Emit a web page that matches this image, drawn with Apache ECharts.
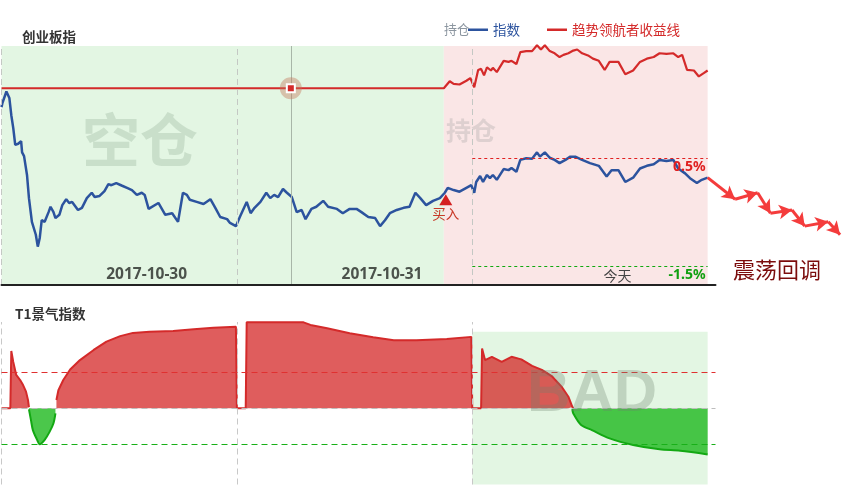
<!DOCTYPE html>
<html><head><meta charset="utf-8">
<script src="https://cdn.jsdelivr.net/npm/echarts@6/dist/echarts.min.js"></script>
<style>html,body{margin:0;padding:0;background:#fff}#c{width:863px;height:489px}</style>
</head><body><div id="c"></div>
<script>
// ---------- data (x = trading minute since 2017-10-30 open, 240 per day) ----------
const dayLabels = ['2017-10-30', '2017-10-31', '今天'];
const dayLabelPos = [148, 388, 628];
const dayBounds = [0, 240, 480];
const seriesNames = ['指数', '趋势领航者收益线'];

// 指数 (%)
const idxT = [0,1,5,8,10,12,14,17,20,21,23,26,28,31,33,35,37,39,41,44,48,50,53,55,59,62,66,69,72,74,78,82,87,92,95,100,105,109,112,117,123,128,133,138,143,146,150,160,167,174,180,185,189,192,199,206,213,218,223,230,233,239,243,250,254,258,264,270,274,278,282,287,291,296,301,306,310,316,321,328,333,342,348,355,362,367,374,381,386,391,396,403,410,416,422,427,433,440,447,452,455,461,467,474,479,482,484,488,491,495,498,501,505,512,517,520,525,529,535,541,546,549,554,559,564,569,575,580,585,592,600,609,617,622,629,636,644,651,658,665,671,678,685,690,697,702,709,714,720];
const idxV = [1.45,1.53,1.74,1.62,1.30,1.06,0.75,0.77,0.82,0.61,0.54,0.19,-0.24,-0.68,-0.68,-0.92,-1.14,-0.98,-0.65,-0.68,-0.50,-0.40,-0.50,-0.61,-0.55,-0.37,-0.26,-0.33,-0.31,-0.31,-0.46,-0.42,-0.24,-0.14,-0.22,-0.20,-0.11,0.02,0.00,0.04,-0.01,-0.05,-0.09,-0.18,-0.14,-0.18,-0.44,-0.33,-0.55,-0.52,-0.68,-0.14,-0.18,-0.27,-0.31,-0.35,-0.26,-0.42,-0.59,-0.63,-0.70,-0.76,-0.59,-0.31,-0.52,-0.42,-0.31,-0.14,-0.24,-0.18,-0.22,-0.07,-0.14,-0.22,-0.50,-0.46,-0.63,-0.44,-0.40,-0.29,-0.40,-0.44,-0.52,-0.44,-0.44,-0.50,-0.59,-0.61,-0.76,-0.65,-0.52,-0.46,-0.42,-0.40,-0.14,-0.24,-0.37,-0.29,-0.24,-0.14,-0.05,-0.09,-0.12,-0.05,0.00,-0.14,0.06,0.17,0.06,0.19,0.13,0.19,0.10,0.30,0.28,0.32,0.25,0.47,0.50,0.49,0.61,0.53,0.61,0.51,0.47,0.41,0.47,0.53,0.53,0.47,0.41,0.36,0.16,0.28,0.28,0.06,0.14,0.31,0.36,0.39,0.47,0.45,0.47,0.31,0.22,0.13,0.04,0.10,0.14];

// 趋势领航者收益线 (%)
const retT = [0,451,457,461,467,474,478,482,486,489,492,495,499,501,505,512,517,520,525,529,535,541,546,550,554,559,564,569,573,578,583,587,592,598,603,609,615,620,629,636,644,651,658,665,671,678,685,690,694,699,706,711,716,720];
const retV = [1.80,1.80,1.93,1.88,1.87,1.94,1.99,1.82,2.14,2.16,2.04,2.19,2.13,2.18,2.10,2.31,2.29,2.31,2.25,2.47,2.49,2.49,2.60,2.52,2.60,2.49,2.45,2.38,2.42,2.45,2.50,2.52,2.45,2.41,2.35,2.31,2.14,2.29,2.29,2.06,2.13,2.29,2.35,2.38,2.45,2.44,2.45,2.38,2.42,2.14,2.13,2.02,2.08,2.13];

// projected path (震荡回调)
const projT = [720,748,771,784,806,819,843,855];
const projV = [0.14,-0.26,-0.14,-0.52,-0.46,-0.76,-0.68,-0.92];

// band lines for today (%)
const bandValues = [0.5, -1.5];
const buyT = 453, buyV = -0.14;
const pointerT = 295;
const emptyEnd = 451, holdEnd = 720;

// T1景气指数 (null = gap)
const t1RedT = [0,9,10,12,15,19,22,25,27,28,40,56,58,63,70,80,94,107,121,134,151,175,196,216,239,240,249,250,308,315,332,355,379,400,423,454,479,480,489,490,493,500,510,520,530,541,551,561,571,578,582,583];
const t1RedV = [0,0,1.58,1.28,0.92,0.78,0.64,0.46,0.23,0.03,null,0.23,0.50,0.78,1.07,1.33,1.61,1.84,1.99,2.08,2.11,2.13,2.18,2.22,2.25,0,0,2.37,2.37,2.30,2.21,2.07,1.96,1.88,1.88,1.91,1.97,0,0,1.65,1.33,1.42,1.28,1.42,1.35,1.17,1.06,0.89,0.60,0.32,0.04,0];
const t1GreenT = [28,30,32,36,39,44,49,53,55,300,582,583,591,602,620,644,671,692,720];
const t1GreenV = [-0.03,-0.32,-0.60,-0.85,-0.99,-0.87,-0.65,-0.41,-0.14,null,-0.02,-0.14,-0.46,-0.60,-0.83,-1.01,-1.13,-1.17,-1.27];
const t1Levels = [1, 0, -1];
const badFrom = 480, badTop = 2.11;

// ---------- chart ----------
const BLUE = '#2c539e', RED = '#d42a2a', GREEN = '#13a813';
const X_MAX = 728;
const PX_PER_MIN = 714 / X_MAX;
const X_MAX_WIDE = (863 - 1.5) / PX_PER_MIN;
const Y0 = [-1.853, 2.585];
const pair = (ts, vs) => ts.map((t, i) => [t, vs[i]]);
const dash = [6, 4];
const CJK = "'Noto Sans CJK SC', sans-serif";

const projLines = [];
for (let i = 0; i < projT.length - 1; i++) {
  projLines.push([{coord: [projT[i], projV[i]]}, {coord: [projT[i + 1], projV[i + 1]]}]);
}

const chart = echarts.init(document.getElementById('c'), null, {renderer: 'canvas'});
const option = {
  animation: false,
  backgroundColor: '#fff',
  textStyle: {fontFamily: CJK},
  title: [
    {text: '创业板指', left: 17, top: 25, textStyle: {fontSize: 13.5, fontWeight: 'bold', color: '#333', fontFamily: CJK}},
    {text: 'T1景气指数', left: 10, top: 302, textStyle: {fontSize: 13.5, fontWeight: 'bold', color: '#333', fontFamily: CJK}}
  ],
  legend: {
    left: 463, top: 18, itemWidth: 20, itemHeight: 2.5, itemGap: 27, icon: 'rect',
    textStyle: {fontSize: 13.5, fontFamily: CJK},
    data: [
      {name: seriesNames[0], textStyle: {color: BLUE}},
      {name: seriesNames[1], textStyle: {color: RED}}
    ]
  },
  grid: [
    {left: 1.5, right: 147.5, top: 46, bottom: 204},
    {left: 1.5, right: 147.5, top: 322, bottom: 4.5},
    {left: 1.5, right: 0, top: 46, bottom: 204}
  ],
  xAxis: [
    {type: 'value', gridIndex: 0, min: 0, max: X_MAX, z: 5,
     axisLine: {show: true, onZero: false, lineStyle: {color: '#222', width: 2}},
     axisTick: {show: false}, splitLine: {show: false},
     axisLabel: {show: true, inside: true, margin: 2, customValues: dayLabelPos,
       formatter: (v) => { const i = dayLabelPos.indexOf(v); return i === dayLabels.length - 1 ? '{n|' + dayLabels[i] + '}' : '{b|' + dayLabels[i] + '}'; },
       rich: {
         b: {fontFamily: "'Noto Sans', sans-serif", fontWeight: 'bold', fontSize: 15.5, color: '#4b524b'},
         n: {fontFamily: CJK, fontSize: 14, color: '#444'}
       }}
    },
    {type: 'value', gridIndex: 1, min: 0, max: X_MAX, show: false},
    {type: 'value', gridIndex: 2, min: 0, max: X_MAX_WIDE, show: false}
  ],
  yAxis: [
    {type: 'value', gridIndex: 0, min: Y0[0], max: Y0[1], show: false, splitLine: {show: false}},
    {type: 'value', gridIndex: 1, min: -2.1, max: 2.38, show: false, splitLine: {show: false}},
    {type: 'value', gridIndex: 2, min: Y0[0], max: Y0[1], show: false, splitLine: {show: false}}
  ],
  series: [
    { // top backgrounds
      type: 'line', xAxisIndex: 0, yAxisIndex: 0, z: 0, silent: true, data: [],
      markArea: {silent: true, data: [
        [{xAxis: 0, itemStyle: {color: '#e3f6e3'}}, {xAxis: emptyEnd}],
        [{xAxis: emptyEnd, itemStyle: {color: '#fae6e6'}}, {xAxis: holdEnd}]
      ]}
    },
    {
      name: seriesNames[1], type: 'line', xAxisIndex: 0, yAxisIndex: 0, z: 3,
      symbol: 'none', clip: false, color: RED,
      lineStyle: {color: RED, width: 2.2},
      data: pair(retT, retV),
      markLine: {silent: true, symbol: 'none', label: {show: false}, data: [
        ...dayBounds.map(b => ({xAxis: b, lineStyle: {type: dash, color: '#c4c8c4', width: 1}})),
        {xAxis: pointerT, lineStyle: {type: 'solid', color: '#a8b6a8', width: 1}}
      ]},
      markPoint: {silent: true, label: {show: false}, data: [
        {coord: [pointerT, retV[0]], symbol: 'circle', symbolSize: 22, itemStyle: {color: 'rgba(196,120,90,0.42)'}},
        {coord: [pointerT, retV[0]], symbol: 'rect', symbolSize: 8, itemStyle: {color: RED, borderColor: '#fff', borderWidth: 2}}
      ]}
    },
    {
      name: seriesNames[0], type: 'line', xAxisIndex: 0, yAxisIndex: 0, z: 4,
      symbol: 'none', clip: false, color: BLUE,
      lineStyle: {color: BLUE, width: 2.5},
      data: pair(idxT, idxV),
      markLine: {silent: true, symbol: 'none', data: [
        [{coord: [badFrom, bandValues[0]], lineStyle: {type: [3, 3], color: '#e02020', width: 1},
          label: {show: true, position: 'insideEndBottom', formatter: bandValues[0] + '%', color: '#e02020', fontSize: 14, fontWeight: 'bold', fontFamily: "'Noto Sans', sans-serif", distance: 2}},
         {coord: [holdEnd, bandValues[0]]}],
        [{coord: [badFrom, bandValues[1]], lineStyle: {type: [3, 3], color: '#10a810', width: 1},
          label: {show: true, position: 'insideEndBottom', formatter: bandValues[1] + '%', color: '#10a010', fontSize: 14, fontWeight: 'bold', fontFamily: "'Noto Sans', sans-serif", distance: 2}},
         {coord: [holdEnd, bandValues[1]]}]
      ]},
      markPoint: {silent: true, data: [
        {coord: [buyT, buyV], symbol: 'triangle', symbolSize: [13, 11], symbolOffset: [0, 7],
         itemStyle: {color: '#d42020'},
         label: {show: true, position: 'bottom', distance: 2, formatter: '买入', color: '#c83a28', fontSize: 13.5, fontFamily: CJK}}
      ]}
    },
    { // projection arrows (wide overlay grid with identical scale)
      type: 'line', xAxisIndex: 2, yAxisIndex: 2, z: 5, clip: false, silent: true,
      symbol: 'none', lineStyle: {opacity: 0}, data: pair(projT, projV),
      markLine: {silent: true, symbol: ['none', 'arrow'], symbolSize: [11, 13], label: {show: false},
        lineStyle: {type: 'solid', color: '#f43c3c', width: 3}, data: projLines}
    },
    { // bottom background
      type: 'line', xAxisIndex: 1, yAxisIndex: 1, z: 0, silent: true, data: [],
      markArea: {silent: true, data: [
        [{xAxis: badFrom, yAxis: badTop, itemStyle: {color: '#e3f6e3'}}, {xAxis: holdEnd, yAxis: -2.1}]
      ]}
    },
    {
      name: 'T1红', type: 'line', xAxisIndex: 1, yAxisIndex: 1, z: 2,
      symbol: 'none', color: RED, lineStyle: {color: RED, width: 2},
      areaStyle: {color: 'rgba(210,30,30,0.72)', opacity: 1},
      data: pair(t1RedT, t1RedV)
    },
    {
      name: 'T1绿', type: 'line', xAxisIndex: 1, yAxisIndex: 1, z: 2,
      symbol: 'none', smooth: 0.3, color: GREEN, lineStyle: {color: GREEN, width: 2},
      areaStyle: {color: 'rgba(30,185,30,0.8)', opacity: 1},
      data: pair(t1GreenT, t1GreenV)
    },
    { // bottom guides
      type: 'line', xAxisIndex: 1, yAxisIndex: 1, z: 6, silent: true, data: [],
      markLine: {silent: true, symbol: 'none', label: {show: false}, data: [
        ...dayBounds.map(b => ({xAxis: b, lineStyle: {type: dash, color: '#c8c8c8', width: 1}})),
        {yAxis: t1Levels[0], lineStyle: {type: dash, color: '#e03030', width: 1}},
        {yAxis: t1Levels[1], lineStyle: {type: dash, color: '#bdbdbd', width: 1}},
        {yAxis: t1Levels[2], lineStyle: {type: dash, color: '#18b018', width: 1}}
      ]}
    }
  ],
  graphic: [
    {type: 'text', left: 444, top: 23, z: 10, style: {text: '持仓', font: "13px 'Noto Sans CJK SC'", fill: '#8c96a0'}},
    {type: 'text', left: 82, top: 111, z: 10, silent: true, style: {text: '空仓', font: "bold 58px 'Noto Sans CJK SC'", fill: 'rgba(120,150,125,0.24)'}},
    {type: 'text', left: 446, top: 118, z: 10, silent: true, style: {text: '持仓', font: "bold 25px 'Noto Sans CJK SC'", fill: 'rgba(150,150,150,0.28)'}},
    {type: 'text', left: 527, top: 364, z: 10, silent: true, style: {text: 'BAD', font: "bold 60px 'Liberation Sans', Arial, sans-serif", fill: 'rgba(110,130,110,0.3)'}},
    {type: 'text', left: 733, top: 259, z: 10, style: {text: '震荡回调', font: "22px 'Noto Sans CJK SC'", fill: '#7b0c0c'}}
  ]
};
chart.setOption(option);
</script></body></html>
